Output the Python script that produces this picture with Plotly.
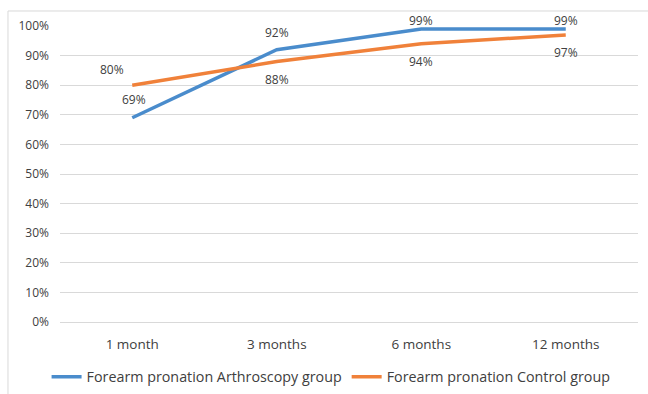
import plotly.graph_objects as go

categories = ["1 month", "3 months", "6 months", "12 months"]
arthro = [69, 92, 99, 99]
control = [80, 88, 94, 97]
arthro_name = "Forearm pronation Arthroscopy group"
control_name = "Forearm pronation Control group"
y_ticks = list(range(0, 101, 10))
y_tick_labels = [f"{v}%" for v in y_ticks]

# label offsets (pixels) relative to each point
arthro_shift = [(2, 18), (0, 17), (0, 8), (0, 8)]
control_shift = [(-20, 16), (0, -18), (0, -18), (0, -18)]

FAM = "Open Sans, Noto Sans, sans-serif"
font = dict(family=FAM, size=12, color="#404040")

fig = go.Figure()
fig.add_trace(go.Scatter(
    x=categories, y=arthro, name=arthro_name, mode="lines",
    line=dict(color="#4a8ccc", width=3.5),
))
fig.add_trace(go.Scatter(
    x=categories, y=control, name=control_name, mode="lines",
    line=dict(color="#f0813a", width=3.5),
))

annotations = []
for series, shifts in ((arthro, arthro_shift), (control, control_shift)):
    for c, v, (dx, dy) in zip(categories, series, shifts):
        annotations.append(dict(x=c, y=v, text=f"{v}%", showarrow=False,
                                xshift=dx, yshift=dy, font=font))

fig.update_layout(
    width=648, height=394,
    margin=dict(l=60, r=10, t=26, b=72, autoexpand=False),
    paper_bgcolor="white", plot_bgcolor="white",
    font=font,
    showlegend=True,
    legend=dict(orientation="h", x=0.469, xanchor="center",
                yref="container", y=17 / 394, yanchor="middle",
                font=dict(family=FAM, size=14.3, color="#404040"),
                itemwidth=30, tracegroupgap=0),
    xaxis=dict(range=[-0.5, 3.5], showgrid=False, showline=False, ticks="",
               automargin=False,
               tickfont=dict(family=FAM, size=13.5, color="#404040"),
               ticklabelstandoff=12),
    yaxis=dict(range=[0, 100], tickvals=y_ticks, ticktext=y_tick_labels,
               automargin=False,
               showgrid=True, gridcolor="#d9d9d9", gridwidth=1, zeroline=True,
               zerolinecolor="#d9d9d9", zerolinewidth=1, showline=False, ticks="",
               tickfont=dict(family=FAM, size=12, color="#404040"),
               ticklabelstandoff=10),
    annotations=annotations,
    shapes=[dict(type="rect", xref="paper", yref="paper",
                 x0=-0.09, x1=1.2, y0=-0.4, y1=1.0507,
                 line=dict(color="#d9d9d9", width=1), fillcolor="rgba(0,0,0,0)")],
)

fig.write_html("out.html")
